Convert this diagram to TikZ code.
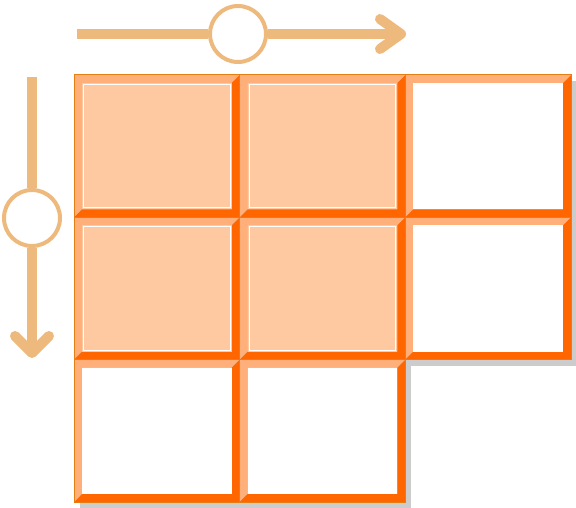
\documentclass[tikz,border=0pt]{standalone}
\definecolor{arrowc}{HTML}{EDB97C}
\definecolor{bevlight}{HTML}{FFB07A}
\definecolor{bevdark}{HTML}{FF6600}
\definecolor{cellfill}{HTML}{FEC8A0}
\definecolor{edgec}{HTML}{E67E14}
\definecolor{shadowc}{HTML}{CCCCCC}
\tikzset{
  axisline/.style={draw=arrowc, line width=10pt},
  axishead/.style={draw=arrowc, line width=10pt, line cap=round, line join=round},
  ringnode/.style={circle, draw=arrowc, fill=white, line width=4pt, minimum size=56pt, inner sep=0pt},
}
\newcommand{\cellw}{165.67}
\newcommand{\cellh}{142.33}
\newcommand{\bev}{8}
% #1 x0, #2 y0, #3 inner fill, #4 draw inner white line (1/0)
\newcommand{\bevcell}[4]{%
  \pgfmathsetmacro{\xa}{#1}\pgfmathsetmacro{\ya}{#2}%
  \pgfmathsetmacro{\xb}{#1+\cellw}\pgfmathsetmacro{\yb}{#2+\cellh}%
  \pgfmathsetmacro{\xi}{#1+\bev}\pgfmathsetmacro{\yi}{#2+\bev}%
  \pgfmathsetmacro{\xj}{#1+\cellw-\bev}\pgfmathsetmacro{\yj}{#2+\cellh-\bev}%
  \fill[bevlight] (\xa,\ya) -- (\xb,\ya) -- (\xj,\yi) -- (\xi,\yi) -- (\xi,\yj) -- (\xa,\yb) -- cycle;
  \fill[bevdark] (\xb,\ya) -- (\xb,\yb) -- (\xa,\yb) -- (\xi,\yj) -- (\xj,\yj) -- (\xj,\yi) -- cycle;
  \fill[#3] (\xi,\yi) rectangle (\xj,\yj);
  \ifnum#4=1 \draw[white, line width=1.3pt] (\xi+1.5,\yi+1.5) rectangle (\xj-1.5,\yj-1.5);\fi
  \draw[edgec, line width=1pt] (\xa,\ya) rectangle (\xb,\yb);
}
\begin{document}
\begin{tikzpicture}[x=1pt,y=-1pt]
\useasboundingbox (0,0) rectangle (576,508);
% shadows
\foreach \cx/\cy in {74/75,239.67/75,405.33/75,74/217.33,239.67/217.33,405.33/217.33,74/359.67,239.67/359.67}{
  \fill[shadowc] (\cx+6,\cy+6) rectangle ++(\cellw,\cellh);
}
% cells
\bevcell{74}{75}{cellfill}{1}
\bevcell{239.67}{75}{cellfill}{1}
\bevcell{405.33}{75}{white}{0}
\bevcell{74}{217.33}{cellfill}{1}
\bevcell{239.67}{217.33}{cellfill}{1}
\bevcell{405.33}{217.33}{white}{0}
\bevcell{74}{359.67}{white}{0}
\bevcell{239.67}{359.67}{white}{0}
% horizontal axis
\coordinate (hs) at (77,34);
\coordinate (he) at (401,34);
\coordinate (ha1) at (380,19);
\coordinate (ha2) at (380,49);
\node[ringnode] (hc) at (238,34) {};
\draw[axisline] (hs) -- (hc.west);
\draw[axisline] (hc.east) -- (he);
\draw[axishead] (ha1) -- (he) -- (ha2);
% vertical axis
\coordinate (vs) at (32,77);
\coordinate (ve) at (32,353);
\coordinate (va1) at (15,336);
\coordinate (va2) at (49,336);
\node[ringnode] (vc) at (32,218) {};
\draw[axisline] (vs) -- (vc.north);
\draw[axisline] (vc.south) -- (ve);
\draw[axishead] (va1) -- (ve) -- (va2);
\end{tikzpicture}
\end{document}
